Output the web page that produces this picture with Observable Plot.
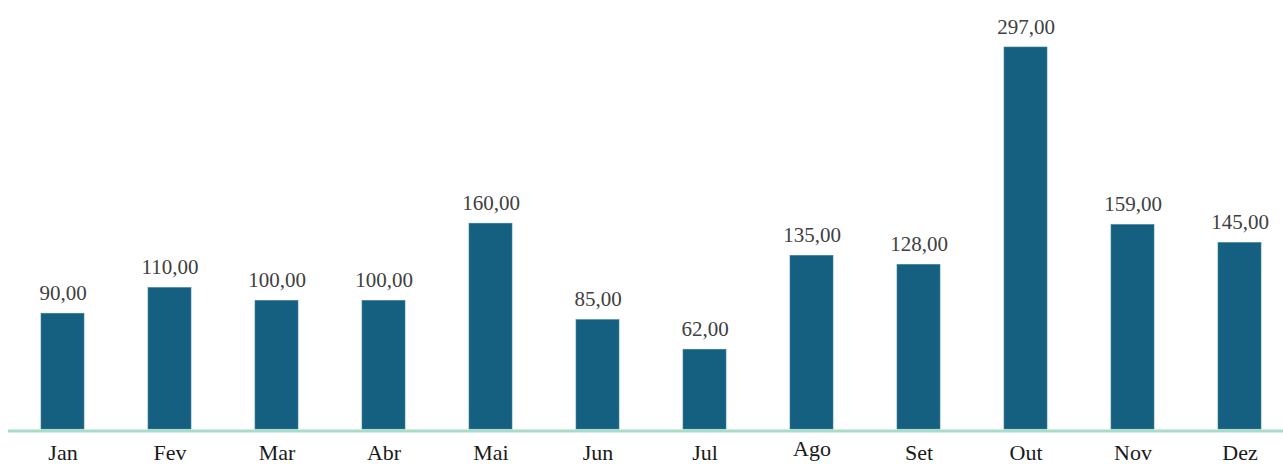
<!DOCTYPE html>
<html>
<head>
<meta charset="utf-8">
<script src="https://cdn.jsdelivr.net/npm/d3@7"></script>
<script src="https://cdn.jsdelivr.net/npm/@observablehq/plot@0.6"></script>
<style>
  html, body { margin: 0; padding: 0; background: #ffffff; }
  #chart svg { display: block; }
</style>
</head>
<body>
<div id="chart"></div>
<script>
const months = ["Jan", "Fev", "Mar", "Abr", "Mai", "Jun", "Jul", "Ago", "Set", "Out", "Nov", "Dez"];
const values = [90, 110, 100, 100, 160, 85, 62, 135, 128, 297, 159, 145];

const data = months.map((m, i) => ({month: m, value: values[i]}));
const fmt = v => v.toFixed(2).replace(".", ",");
const font = "'Liberation Serif', 'Times New Roman', serif";

const chart = Plot.plot({
  width: 1283,
  height: 464,
  marginTop: 47,
  marginBottom: 35,
  marginLeft: 8,
  marginRight: 0,
  style: {background: "#ffffff", fontFamily: font},
  x: {type: "band", domain: months, range: [8, 1294], paddingInner: 0.6, paddingOuter: 0.3, axis: null},
  y: {domain: [0, 297], axis: null},
  marks: [
    Plot.barY(data, {x: "month", y: "value", fill: "#156080", stroke: "#3d7f99", strokeWidth: 0.6}),
    Plot.ruleY([0], {stroke: "#a8dcc6", strokeWidth: 3, dy: 1.5}),
    Plot.text(data, {x: "month", y: "value", text: d => fmt(d.value), lineAnchor: "bottom", dy: -14, fontSize: 21, fill: "#404040", fontFamily: font}),
    Plot.text(data.filter(d => d.month !== "Ago"), {x: "month", text: "month", frameAnchor: "bottom", lineAnchor: "bottom", dy: 30, fontSize: 22, fill: "#1a1a1a", fontFamily: font}),
    Plot.text(data.filter(d => d.month === "Ago"), {x: "month", text: "month", frameAnchor: "bottom", lineAnchor: "bottom", dy: 26, fontSize: 22, fill: "#1a1a1a", fontFamily: font})
  ]
});
document.getElementById("chart").append(chart);
</script>
</body>
</html>
